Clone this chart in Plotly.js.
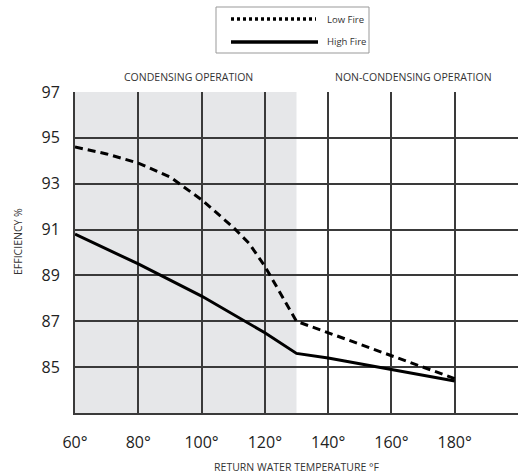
<!DOCTYPE html>
<html>
<head>
<meta charset="utf-8">
<script src="https://cdn.plot.ly/plotly-3.0.1.min.js"></script>
<style>html,body{margin:0;padding:0;background:#fff;}#chart{width:518px;height:474px;}</style>
</head>
<body>
<div id="chart"></div>
<script>
// Data
var lowFireTemp = [60, 70, 80, 90, 100, 110, 115, 120, 130, 140, 160, 180];
var lowFireEff  = [94.6, 94.3, 93.9, 93.3, 92.3, 91.1, 90.4, 89.4, 87.0, 86.5, 85.5, 84.5];
var highFireTemp = [60, 80, 100, 120, 130, 140, 160, 180];
var highFireEff  = [90.8, 89.5, 88.1, 86.5, 85.6, 85.4, 84.9, 84.4];
var xTickVals = [60, 80, 100, 120, 140, 160, 180];
var xTickText = ["60°", "80°", "100°", "120°", "140°", "160°", "180°"];
var yTickVals = [85, 87, 89, 91, 93, 95, 97];
var condensingLimit = 130;
var seriesNames = ["Low Fire", "High Fire"];

var FONT = "Open Sans, Noto Sans, sans-serif";
var INK = "#222";
var GRID = "#3a3a3a";

var traces = [
  {x: lowFireTemp, y: lowFireEff, name: seriesNames[0], mode: "lines",
   line: {color: "#000", width: 3, dash: "8px,5px"}, showlegend: false, hoverinfo: "skip"},
  {x: highFireTemp, y: highFireEff, name: seriesNames[1], mode: "lines",
   line: {color: "#000", width: 3}, showlegend: false, hoverinfo: "skip"}
];

function px2x(p){ return (p - 75) / 443; }
function py2y(p){ return (413 - p) / 321; }

var layout = {
  width: 518, height: 474,
  margin: {l: 75, r: 0, t: 92, b: 61},
  paper_bgcolor: "#fff", plot_bgcolor: "#fff",
  font: {family: FONT, color: INK},
  xaxis: {
    range: [60, 200], tickvals: xTickVals, ticktext: xTickText,
    showgrid: true, gridcolor: GRID, gridwidth: 2,
    showline: true, linecolor: GRID, linewidth: 2,
    zeroline: false, ticks: "", ticklabelstandoff: 14,
    tickfont: {size: 16, color: INK, family: FONT},
    title: {text: "RETURN WATER TEMPERATURE °F", font: {size: 10.5, color: "#333", family: FONT}, standoff: 12},
    fixedrange: true
  },
  yaxis: {
    range: [83, 97], tickvals: yTickVals,
    showgrid: true, gridcolor: GRID, gridwidth: 2,
    showline: true, linecolor: GRID, linewidth: 2,
    zeroline: false, ticks: "", ticklabelstandoff: 10,
    tickfont: {size: 16, color: INK, family: FONT},
    fixedrange: true
  },
  shapes: [
    {type: "rect", xref: "x", yref: "paper", x0: 60, x1: condensingLimit, y0: 0, y1: 1,
     fillcolor: "#e6e7e9", line: {width: 0}, layer: "below"},
    // legend box
    {type: "rect", xref: "paper", yref: "paper", x0: px2x(216), x1: px2x(369), y0: py2y(53), y1: py2y(7),
     line: {color: "#999", width: 1}, fillcolor: "rgba(0,0,0,0)"},
    {type: "line", xref: "paper", yref: "paper", x0: px2x(231), x1: px2x(316), y0: py2y(19), y1: py2y(19),
     line: {color: "#000", width: 3.5, dash: "3px,3px"}},
    {type: "line", xref: "paper", yref: "paper", x0: px2x(231), x1: px2x(318), y0: py2y(42), y1: py2y(42),
     line: {color: "#000", width: 3.5}}
  ],
  annotations: [
    {xref: "paper", yref: "paper", x: px2x(325), y: py2y(19), xanchor: "left", yanchor: "middle",
     text: seriesNames[0], showarrow: false, font: {size: 9.5, color: "#333", family: FONT}},
    {xref: "paper", yref: "paper", x: px2x(325), y: py2y(42), xanchor: "left", yanchor: "middle",
     text: seriesNames[1], showarrow: false, font: {size: 9.5, color: "#333", family: FONT}},
    {xref: "paper", yref: "paper", x: px2x(188), y: py2y(77), xanchor: "center", yanchor: "middle",
     text: "CONDENSING OPERATION", showarrow: false, font: {size: 10.5, color: "#333", family: FONT}},
    {xref: "paper", yref: "paper", x: px2x(413), y: py2y(77), xanchor: "center", yanchor: "middle",
     text: "NON-CONDENSING OPERATION", showarrow: false, font: {size: 10.5, color: "#333", family: FONT}},
    {xref: "paper", yref: "paper", x: px2x(18), y: py2y(242), xanchor: "center", yanchor: "middle",
     text: "EFFICIENCY %", textangle: -90, showarrow: false, font: {size: 10.5, color: "#333", family: FONT}}
  ],
  showlegend: false
};

Plotly.newPlot("chart", traces, layout, {displayModeBar: false, staticPlot: true});
</script>
</body>
</html>
